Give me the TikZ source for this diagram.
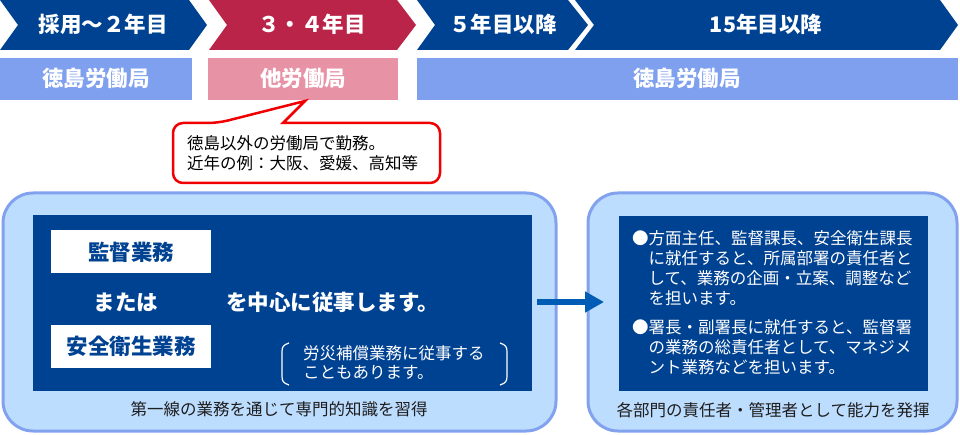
\documentclass[tikz,border=0pt]{standalone}
\usepackage{fontspec}
\setmainfont{Noto Sans CJK JP}
\usetikzlibrary{arrows.meta}
\definecolor{dblue}{RGB}{0,66,146}
\definecolor{cred}{RGB}{186,36,72}
\definecolor{rowblue}{RGB}{127,160,238}
\definecolor{cpink}{RGB}{232,146,166}
\definecolor{boxfill}{RGB}{189,221,255}
\definecolor{boxline}{RGB}{130,162,238}
\definecolor{arrowblue}{RGB}{0,92,180}
\definecolor{callred}{RGB}{240,0,0}
\definecolor{captext}{RGB}{30,30,30}
\tikzset{
  bigtext/.style={inner sep=0pt, text height=18.9pt, text depth=2.6pt,
    font=\fontsize{21.5}{26}\selectfont\bfseries, text=white},
  smalltext/.style={inner sep=0pt, text height=14.5pt, text depth=2pt,
    font=\fontsize{16.5}{20}\selectfont},
  chev/.style={draw=none},
  bigbox/.style={draw=boxline, line width=3pt, fill=boxfill, rounded corners=30pt},
  innerbox/.style={fill=dblue, draw=none},
  whitebox/.style={fill=white, draw=none},
}
\begin{document}
\begin{tikzpicture}[x=1pt,y=-1pt]
\useasboundingbox (0,0) rectangle (960,435);
% chevrons
\fill[dblue] (0,0) -- (189,0) -- (207,25) -- (189,50) -- (0,50) -- (18,25) -- cycle;
\fill[cred] (209,0) -- (397,0) -- (416,25) -- (397,50) -- (209,50) -- (227,25) -- cycle;
\fill[dblue] (417,0) -- (568,0) -- (588,25) -- (568,50) -- (417,50) -- (435,25) -- cycle;
\fill[dblue] (575,0) -- (940,0) -- (958,25) -- (940,50) -- (575,50) -- (594,25) -- cycle;
\node[bigtext] (h1) at (103,24) {採用～２年目};
\node[bigtext] (h2) at (312,24) {３・４年目};
\node[bigtext] (h3) at (503,24) {５年目以降};
\node[bigtext] (h4) at (766,24) {15年目以降};
% row 2
\fill[rowblue] (0,58) rectangle (192,100);
\fill[cpink] (208,58) rectangle (398,100);
\fill[rowblue] (417,58) rectangle (958,100);
\node[bigtext] (o1) at (96,78) {徳島労働局};
\node[bigtext] (o2) at (303,78) {他労働局};
\node[bigtext] (o3) at (687,78) {徳島労働局};
% callout
\draw[callred, line width=2.5pt, fill=white, rounded corners=10pt]
  (173,150) -- (173,123) -- (218,123) [sharp corners] -- (305,101) -- (283,123)
  [rounded corners=10pt] -- (440,123) -- (440,183) -- (173,183) -- cycle;
\node[smalltext, anchor=west] (c1) at (187,143) {徳島以外の労働局で勤務。};
\node[smalltext, anchor=west] (c2) at (187,163) {近年の例：大阪、愛媛、高知等};
% left big box
\draw[bigbox] (3,193) rectangle (556,431);
\fill[innerbox] (33,215) rectangle (532,391);
\coordinate (innerLE) at (532,302);
\fill[whitebox] (51,230) rectangle (211,273);
\fill[whitebox] (51,325) rectangle (211,368);
\node[bigtext, text=dblue] (t1) at (131,252) {監督業務};
\node[bigtext, text=dblue] (t2) at (131,346) {安全衛生業務};
\node[bigtext] (t3) at (126,302) {または};
\node[bigtext, anchor=west] (t4) at (226,302) {を中心に従事します。};
\draw[white, line width=1.2pt] (289,343) .. controls (283,345) and (282,347) .. (282,352) -- (282,376) .. controls (282,381) and (283,383) .. (289,385);
\draw[white, line width=1.2pt] (500,343) .. controls (506,345) and (507,347) .. (507,352) -- (507,376) .. controls (507,381) and (506,383) .. (500,385);
\node[smalltext, text=white, anchor=west] (b1) at (303,353) {労災補償業務に従事する};
\node[smalltext, text=white, anchor=west] (b2) at (303,372) {こともあります。};
\node[smalltext, text=captext] (cap1) at (279,409) {第一線の業務を通じて専門的知識を習得};
% right big box
\draw[bigbox] (588,193) rectangle (957,431);
\fill[innerbox] (619,216) rectangle (928,391);
\coordinate (innerRW) at (619,302);
\node[smalltext, text=white, anchor=west] (r1) at (632,238) {●方面主任、監督課長、安全衛生課長};
\node[smalltext, text=white, anchor=west] (r2) at (648.5,258) {に就任すると、所属部署の責任者と};
\node[smalltext, text=white, anchor=west] (r3) at (648.5,278) {して、業務の企画・立案、調整など};
\node[smalltext, text=white, anchor=west] (r4) at (648.5,298) {を担います。};
\node[smalltext, text=white, anchor=west] (r5) at (632,327) {●署長・副署長に就任すると、監督署};
\node[smalltext, text=white, anchor=west] (r6) at (648.5,347) {の業務の総責任者として、マネジメ};
\node[smalltext, text=white, anchor=west] (r7) at (648.5,367) {ント業務などを担います。};
\node[smalltext, text=captext] (cap2) at (773,410) {各部門の責任者・管理者として能力を発揮};
% arrow
\draw[arrowblue, line width=6pt, -{Triangle[length=19pt, width=20pt]}]
  ([xshift=5pt]innerLE) -- ([xshift=-15pt]innerRW);
\end{tikzpicture}
\end{document}
